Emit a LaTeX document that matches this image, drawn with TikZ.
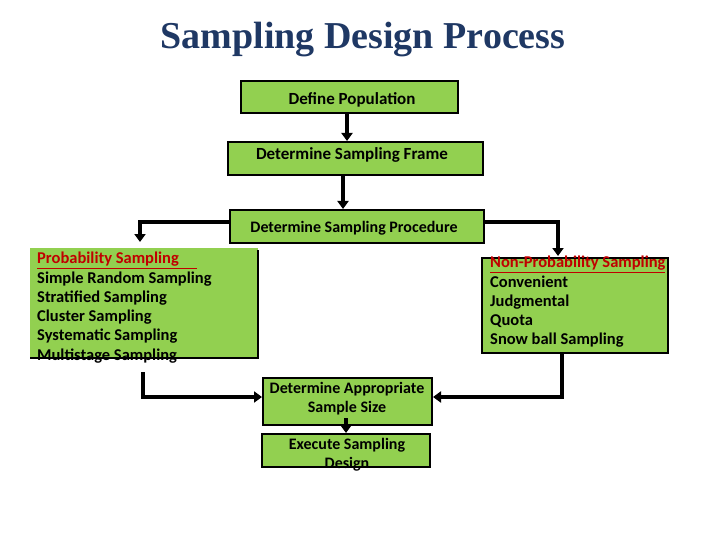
\documentclass[tikz,border=0pt]{standalone}
\usepackage{fontspec}
\setmainfont{Carlito}
\newfontfamily\titlefont{Liberation Serif}
\usetikzlibrary{arrows.meta}
\definecolor{boxg}{HTML}{92D050}
\definecolor{ttl}{HTML}{1F3864}
\definecolor{redt}{HTML}{C00000}
\begin{document}
\begin{tikzpicture}[x=1pt,y=-1pt,
  bx/.style={draw=black,line width=2pt,fill=boxg,inner sep=0pt},
  tx/.style={font=\bfseries\fontsize{17}{18}\selectfont,align=center},
  lst/.style={font=\bfseries\fontsize{16.5}{19.3}\selectfont,align=left,anchor=north west,inner sep=0pt},
  conn/.style={line width=3.5pt,-{Triangle[length=8pt,width=11pt]}}]
\useasboundingbox (0,0) rectangle (720,540);
\node[font=\titlefont\bfseries\fontsize{38}{40}\selectfont,text=ttl] (title) at (363,40) {Sampling Design Process};
\path[bx] (241,81) rectangle (458,113);
\node[tx] (dp) at (352,100) {Define Population};
\path[bx] (228,142) rectangle (483,175);
\node[tx] (fr) at (352,155) {Determine Sampling Frame};
\path[bx] (230,210) rectangle (484,243);
\node[tx,font=\bfseries\fontsize{16}{16}\selectfont] (pr) at (354,228) {Determine Sampling Procedure};
\path[bx,draw=none] (30,248) rectangle (258,358);
\draw[line width=2pt] (258,250) -- (258,358) -- (30,358);
\node[lst] (pl) at (37,252) {\textcolor{redt}{\underline{Probability Sampling\ \ \ \ \ }}\\Simple Random Sampling\\Stratified Sampling\\Cluster Sampling\\Systematic Sampling\\Multistage Sampling};
\path[bx] (482,258) rectangle (668,353);
\node[lst] (nl) at (490,256) {\textcolor{redt}{\underline{Non-Probability Sampling}}\\Convenient\\Judgmental\\Quota\\Snow ball Sampling};
\path[bx] (263,378) rectangle (432,425);
\node[tx,font=\bfseries\fontsize{16}{19}\selectfont] (ss) at (347,399) {Determine Appropriate\\Sample Size};
\path[bx] (262,434) rectangle (430,467);
\node[tx,font=\bfseries\fontsize{16}{19}\selectfont] (ex) at (347,455) {Execute Sampling\\Design};
\coordinate (a1) at (347,113); \coordinate (a2) at (347,141);
\draw[conn] (a1) -- (a2);
\coordinate (b1) at (343,175); \coordinate (b2) at (343,209);
\draw[conn] (b1) -- (b2);
\coordinate (c1) at (230,222); \coordinate (c2) at (140,222); \coordinate (c3) at (140,242);
\draw[conn] (c1) -- (c2) -- (c3);
\coordinate (d1) at (484,222); \coordinate (d2) at (558,222); \coordinate (d3) at (558,256);
\draw[conn] (d1) -- (d2) -- (d3);
\coordinate (e1) at (143,372); \coordinate (e2) at (143,397); \coordinate (e3) at (262,397);
\draw[conn] (e1) -- (e2) -- (e3);
\coordinate (f1) at (562,353); \coordinate (f2) at (562,397); \coordinate (f3) at (433,397);
\draw[conn] (f1) -- (f2) -- (f3);
\coordinate (g1) at (346,418); \coordinate (g2) at (346,433);
\draw[conn] (g1) -- (g2);
\end{tikzpicture}
\end{document}
